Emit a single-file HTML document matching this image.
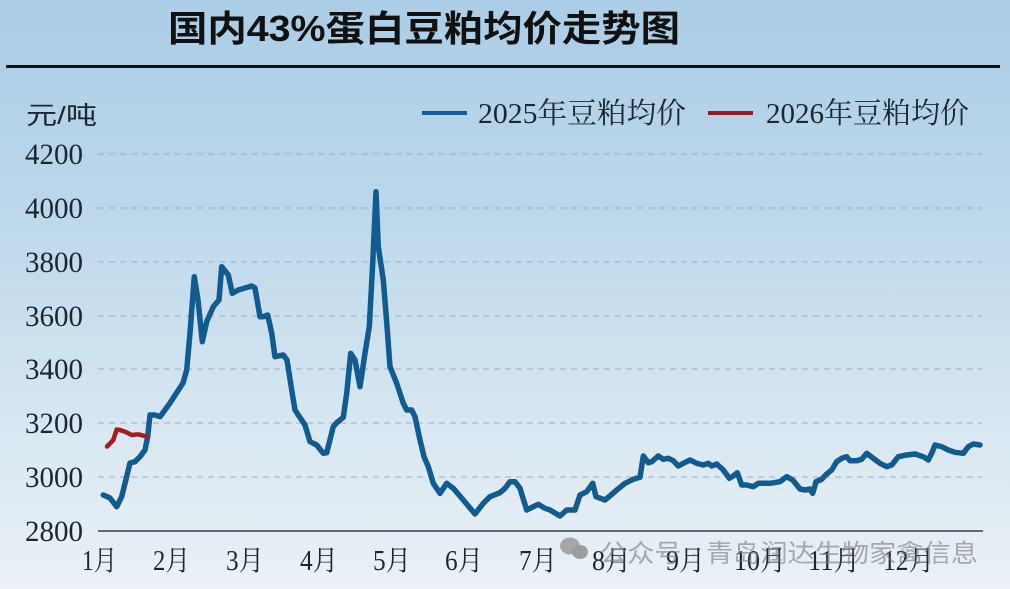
<!DOCTYPE html>
<html>
<head>
<meta charset="utf-8">
<style>
html,body{margin:0;padding:0;width:1010px;height:589px;overflow:hidden;background:#cfe2ef;}
svg{display:block;}
</style>
</head>
<body>
<svg width="1010" height="589" viewBox="0 0 1010 589" xmlns="http://www.w3.org/2000/svg">
<defs>
<linearGradient id="bg" x1="0" y1="0" x2="0" y2="1">
<stop offset="0" stop-color="#abcde6"/>
<stop offset="0.35" stop-color="#bcd7eb"/>
<stop offset="0.7" stop-color="#d6e6f1"/>
<stop offset="1" stop-color="#ebf1f6"/>
</linearGradient>
</defs>
<rect x="0" y="0" width="1010" height="589" fill="url(#bg)"/>

<!-- title -->
<text x="168" y="41" font-family="'Liberation Sans','Noto Sans CJK SC',sans-serif" font-weight="bold" font-size="36" fill="#111" textLength="512" lengthAdjust="spacingAndGlyphs">国内43%蛋白豆粕均价走势图</text>
<rect x="6" y="65" width="994" height="3" fill="#111"/>

<!-- unit -->
<text x="26" y="124" font-family="'Liberation Sans','Noto Sans CJK SC',sans-serif" font-size="25" fill="#1c2630" textLength="71" lengthAdjust="spacingAndGlyphs">元/吨</text>

<!-- legend -->
<line x1="422" y1="113" x2="467" y2="113" stroke="#155d92" stroke-width="4"/>
<text x="478" y="123" font-family="'Liberation Serif','Noto Serif CJK SC',serif" font-size="29" fill="#1c2630" textLength="208" lengthAdjust="spacingAndGlyphs">2025年豆粕均价</text>
<line x1="708" y1="113" x2="753" y2="113" stroke="#9a1a24" stroke-width="4"/>
<text x="766" y="123" font-family="'Liberation Serif','Noto Serif CJK SC',serif" font-size="29" fill="#1c2630" textLength="203" lengthAdjust="spacingAndGlyphs">2026年豆粕均价</text>

<!-- gridlines -->
<g stroke="#9fb1c0" stroke-width="1.2" stroke-dasharray="6 5" opacity="0.8">
<line x1="98" y1="154" x2="982" y2="154"/>
<line x1="98" y1="208" x2="982" y2="208"/>
<line x1="98" y1="262" x2="982" y2="262"/>
<line x1="98" y1="316" x2="982" y2="316"/>
<line x1="98" y1="369" x2="982" y2="369"/>
<line x1="98" y1="423" x2="982" y2="423"/>
<line x1="98" y1="477" x2="982" y2="477"/>
</g>
<line x1="98" y1="531" x2="983" y2="531" stroke="#5d6b78" stroke-width="2"/>

<!-- y labels -->
<g font-family="'Liberation Serif',serif" font-size="30" fill="#1c2630" text-anchor="end">
<text x="83" y="164" textLength="58" lengthAdjust="spacingAndGlyphs">4200</text>
<text x="83" y="218" textLength="58" lengthAdjust="spacingAndGlyphs">4000</text>
<text x="83" y="272" textLength="58" lengthAdjust="spacingAndGlyphs">3800</text>
<text x="83" y="326" textLength="58" lengthAdjust="spacingAndGlyphs">3600</text>
<text x="83" y="379" textLength="58" lengthAdjust="spacingAndGlyphs">3400</text>
<text x="83" y="433" textLength="58" lengthAdjust="spacingAndGlyphs">3200</text>
<text x="83" y="487" textLength="58" lengthAdjust="spacingAndGlyphs">3000</text>
<text x="83" y="541" textLength="58" lengthAdjust="spacingAndGlyphs">2800</text>
</g>

<!-- x labels -->
<g font-family="'Liberation Serif','Noto Serif CJK SC',serif" font-size="28" fill="#1c2630">
<text x="82" y="570" textLength="35" lengthAdjust="spacingAndGlyphs">1月</text>
<text x="153" y="570" textLength="37" lengthAdjust="spacingAndGlyphs">2月</text>
<text x="226" y="570" textLength="38" lengthAdjust="spacingAndGlyphs">3月</text>
<text x="300" y="570" textLength="38" lengthAdjust="spacingAndGlyphs">4月</text>
<text x="373" y="570" textLength="38" lengthAdjust="spacingAndGlyphs">5月</text>
<text x="445" y="570" textLength="38" lengthAdjust="spacingAndGlyphs">6月</text>
<text x="519" y="570" textLength="38" lengthAdjust="spacingAndGlyphs">7月</text>
<text x="592" y="570" textLength="39" lengthAdjust="spacingAndGlyphs">8月</text>
<text x="666" y="570" textLength="39" lengthAdjust="spacingAndGlyphs">9月</text>
<text x="734" y="570" textLength="52" lengthAdjust="spacingAndGlyphs">10月</text>
<text x="808" y="570" textLength="52" lengthAdjust="spacingAndGlyphs">11月</text>
<text x="883" y="570" textLength="51" lengthAdjust="spacingAndGlyphs">12月</text>
</g>

<!-- 2025 series -->
<polyline fill="none" stroke="#125b8f" stroke-width="5.5" stroke-linejoin="round" stroke-linecap="round" points="
103.3,495 110,498 116.7,506.7 121.7,496.7 130,463 135,461.7 140,456.7 145,450 147.7,436.7 150,415 155,415 160,416.7 170,403 183,383 186.7,370 190,333 194.3,276.7 198,300 202.3,341.7 206.7,321.7 213.3,306.7 219,300 221.7,266.7 228.3,275 232.3,293.3 238.3,290 251.7,286 255,288 260,316.7 263.3,316.7 267.7,315 271.7,333 275,356.7 283.3,355 287,360 291.7,390 295,410 305,425 310,441.7 316.7,445 323.3,453.3 326.7,452.7 333.3,426.7 336.7,422.7 343.3,417.3 346.7,393.3 350.7,353.3 355,360 360,386.7 365,353.3 369.3,326.7 372.7,263.3 376,191.7 378.3,246.7 383.3,280 387.3,330 390,366.7 396.7,383.3 403.3,403.3 406.7,410 411.7,410 415,416.7 420,440 424,456.7 428.3,466.7 433.3,483.3 440,493.3 446.7,483.3 453.3,488.3 463.3,500 475,514 483.3,503.3 490,496.7 500,492.7 505,488.3 510,481.7 515,481.7 520,488.3 526.7,510 533.3,506.7 538.3,504.3 545,508.3 550,510 560,516 566.7,510 575,510 580,495 586.7,491.7 592.7,483.3 596,496.7 605,500 611,495 616.7,490 625,483.3 633.3,479.3 640,477.3 643.3,456 648.3,462.7 651.7,461.7 658.3,456 663.3,459.3 668.3,458.3 673.3,460.7 678.3,466 683.3,463.3 690,460 696.7,463.3 703.3,465 708.3,463.3 711.7,466 716.7,464 723.3,470 729.3,478.3 733.3,476 737.3,472.7 741.7,485 746.7,485 753.3,486.7 758.3,483.3 770,483.3 780,481.7 786.7,476.7 792.7,480 800,489 805,490 810,489 812.7,493.3 816,481.7 821.7,479.3 826.7,474 831.7,470 836.7,461.7 841.7,458.3 846.7,456.7 850,460.7 856.7,460.7 861.7,459.3 866.7,453.3 873.3,458.3 880,463.3 886.7,466.7 891.7,465 898.3,456.7 906.7,455 915,454 923.3,456.7 928.3,460 931.7,453.3 935,445 941.7,446.7 948.3,450 955,452.3 963.3,453.3 968.3,446.7 973.3,444 980,445"/>

<!-- 2026 series -->
<polyline fill="none" stroke="#a81b22" stroke-width="4.5" stroke-linejoin="round" stroke-linecap="round" points="107,446.5 113.3,440 116.7,429.5 120,430 125,431.7 131.7,435 138.3,434.3 146.7,436.5"/>

<!-- watermark -->
<g opacity="0.6" fill="#7a7a7a">
<ellipse cx="570" cy="546" rx="10" ry="8.5"/>
<ellipse cx="580" cy="552" rx="8" ry="7" fill="#6a6a6a"/>
<text x="600" y="562" font-family="'Liberation Sans','Noto Sans CJK SC',sans-serif" font-size="25" textLength="378" lengthAdjust="spacingAndGlyphs">公众号 · 青岛润达生物家禽信息</text>
</g>
</svg>
</body>
</html>
